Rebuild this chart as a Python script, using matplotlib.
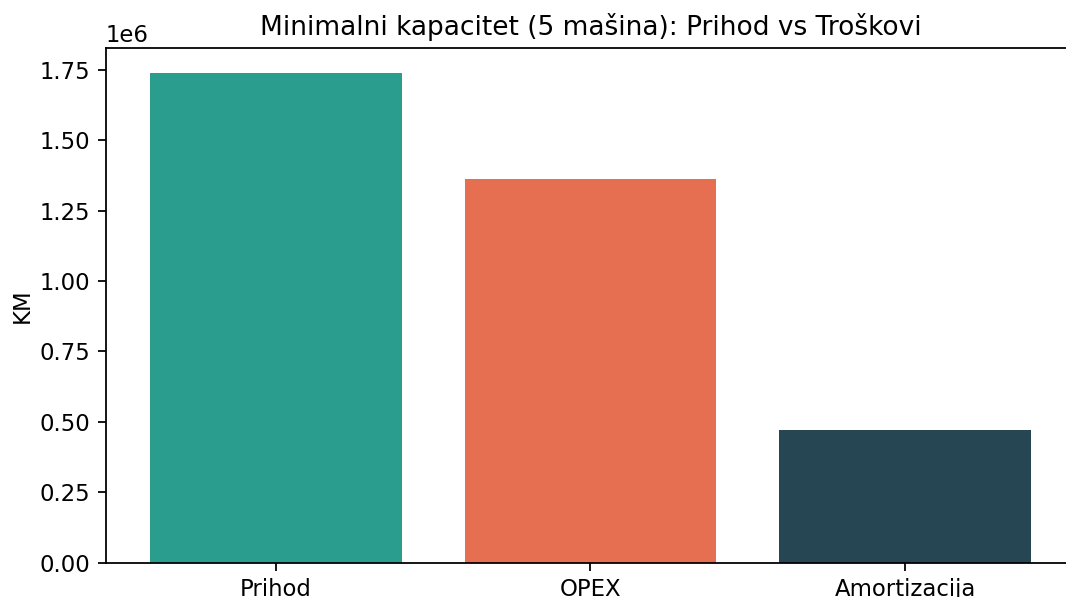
import matplotlib
matplotlib.use("Agg")
import matplotlib.pyplot as plt

categories = ["Prihod", "OPEX", "Amortizacija"]
values = [1.739e6, 1.363e6, 0.472e6]
colors = ["#2a9d8f", "#e76f51", "#264653"]

s = 1.07
plt.rcParams.update({
    "font.size": 10.9,
    "axes.linewidth": 0.8 * s,
    "xtick.major.size": 3.5 * s,
    "ytick.major.size": 3.5 * s,
    "xtick.major.width": 0.8 * s,
    "ytick.major.width": 0.8 * s,
    "xtick.major.pad": 3.5 * s,
    "ytick.major.pad": 3.5 * s,
    "axes.titlepad": 6 * s,
    "axes.labelpad": 2.8,
})

fig = plt.figure(figsize=(1066/150, 597/150), dpi=150)
ax = fig.add_axes([0.099, 0.0575, 0.9098, 0.8616])
ax.bar(categories, values, color=colors, width=0.8)
ax.set_title("Minimalni kapacitet (5 mašina): Prihod vs Troškovi", fontsize=12.7)
ax.set_ylabel("KM")
fig.savefig("out.png", dpi=150)
